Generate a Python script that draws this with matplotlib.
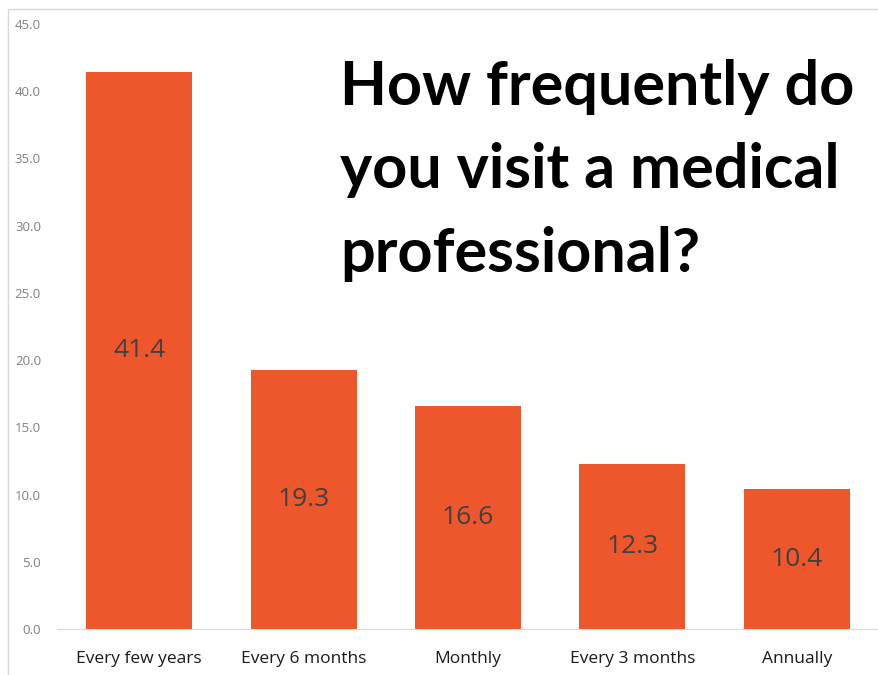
import matplotlib.pyplot as plt
from matplotlib.patches import Rectangle

categorias = ['Every few years', 'Every 6 months', 'Monthly', 'Every 3 months', 'Annually']
valores = [41.4, 19.3, 16.6, 12.3, 10.4]
ticks_y = [0, 5, 10, 15, 20, 25, 30, 35, 40, 45]

titulo = 'How frequently do\nyou visit a medical\nprofessional?'

fig = plt.figure(figsize=(8.79, 6.75), dpi=100)
ax = fig.add_axes([57 / 879, 1 - 629 / 675, (879 - 57) / 879, (629 - 24) / 675])

# moldura clara em volta do grafico (cortada na direita e embaixo)
fig.patches.append(Rectangle((8 / 879, -0.1), 1.2, 1 - 9 / 675 + 0.1,
                             transform=fig.transFigure, fill=False,
                             edgecolor='#d9d9d9', linewidth=1))

x = range(len(categorias))
barras = ax.bar(x, valores, width=0.645, color='#EE572B')

for b, v in zip(barras, valores):
    ax.text(b.get_x() + b.get_width() / 2, v / 2, '{:.1f}'.format(v),
            ha='center', va='center', fontsize=19, color='#404040',
            family='Open Sans')

ax.set_xlim(-0.5, 4.5)
ax.set_ylim(0, 45)
ax.set_yticks(ticks_y)
ax.set_yticklabels(['{:.1f}'.format(t) for t in ticks_y], fontsize=9.5,
                   color='#808080', family='Open Sans')
ax.set_xticks(list(x))
ax.set_xticklabels(categorias, fontsize=12.5, color='#1a1a1a', family='Open Sans')
ax.tick_params(axis='both', length=0)
ax.tick_params(axis='x', pad=16)
ax.tick_params(axis='y', pad=11.5)
for lado in ['top', 'right', 'left']:
    ax.spines[lado].set_visible(False)
ax.spines['bottom'].set_color('#d9d9d9')

fig.text(340 / 879, 1 - 272 / 675, titulo, fontsize=44, fontweight='bold',
         family='Lato', color='black', va='baseline', ha='left',
         linespacing=1.6)

fig.savefig('out.png', dpi=100)
